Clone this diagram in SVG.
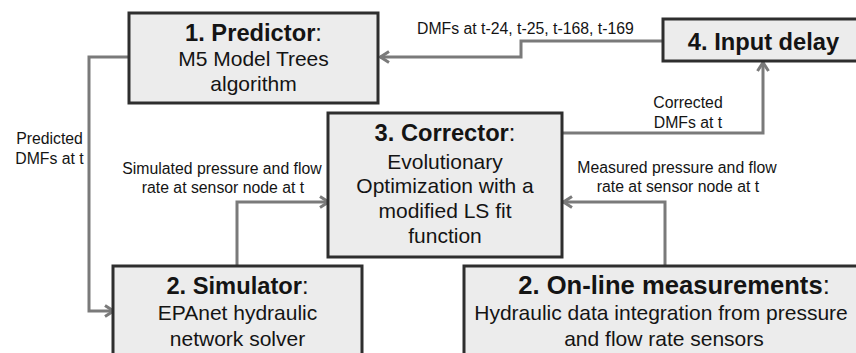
<svg xmlns="http://www.w3.org/2000/svg" width="856" height="353" viewBox="0 0 856 353">
<style>
.box{fill:#ececec;stroke:#2e2e2e;stroke-width:3}
.conn{fill:none;stroke:#7a7a7a;stroke-width:3}
text{font-family:"Liberation Sans",Arial,sans-serif;fill:#141414}
.t{font-size:23.7px;font-weight:bold;text-anchor:middle}
.b{font-size:21px;text-anchor:middle}
.l{font-size:15.8px}
.c{text-anchor:middle}
.n{font-weight:normal}
</style>
<defs>
<marker id="arr" markerUnits="userSpaceOnUse" markerWidth="16" markerHeight="16" viewBox="0 0 16 16" refX="14" refY="8" orient="auto">
<path d="M5,2.5 L13.5,8 L5,13.5" fill="none" stroke="#7a7a7a" stroke-width="3"/>
</marker>
</defs>
<rect width="856" height="353" fill="#ffffff"/>
<g id="connectors">
<path class="conn" d="M663,41 H521 V57 H380" marker-end="url(#arr)"/>
<path class="conn" d="M129,57 H89 V311 H114" marker-end="url(#arr)"/>
<path class="conn" d="M237,266 V202 H329" marker-end="url(#arr)"/>
<path class="conn" d="M665,266 V202 H563" marker-end="url(#arr)"/>
<path class="conn" d="M562,133 H763 V62" marker-end="url(#arr)"/>
<text class="l" x="417" y="34">DMFs at t-24, t-25, t-168, t-169</text>
<text class="l c" x="49.5" y="144">Predicted</text>
<text class="l c" x="49.5" y="164">DMFs at t</text>
<text class="l c" x="222" y="174">Simulated pressure and flow</text>
<text class="l c" x="223" y="193">rate at sensor node at t</text>
<text class="l c" x="677" y="173">Measured pressure and flow</text>
<text class="l c" x="678" y="192">rate at sensor node at t</text>
<text class="l c" x="688" y="108">Corrected</text>
<text class="l c" x="688" y="128">DMFs at t</text>
</g>
<g id="predictor">
<rect class="box" x="129" y="13" width="249" height="90"/>
<text class="t" x="253.5" y="41">1. Predictor<tspan class="n">:</tspan></text>
<text class="b" x="253.5" y="66">M5 Model Trees</text>
<text class="b" x="253.5" y="91">algorithm</text>
</g>
<g id="input-delay">
<rect class="box" x="663" y="19" width="205" height="42"/>
<text class="t" x="763.5" y="50">4. Input delay</text>
</g>
<g id="corrector">
<rect class="box" x="328" y="113" width="234" height="144"/>
<text class="t" x="445" y="141">3. Corrector<tspan class="n">:</tspan></text>
<text class="b" x="445" y="168.5">Evolutionary</text>
<text class="b" x="445" y="193">Optimization with a</text>
<text class="b" x="445" y="218">modified LS fit</text>
<text class="b" x="445" y="243">function</text>
</g>
<g id="simulator">
<rect class="box" x="113" y="266" width="249" height="100"/>
<text class="t" x="237.5" y="294">2. Simulator<tspan class="n">:</tspan></text>
<text class="b" x="237.5" y="320">EPAnet hydraulic</text>
<text class="b" x="237.5" y="346">network solver</text>
</g>
<g id="online-measurements">
<rect class="box" x="464" y="266" width="410" height="100"/>
<text class="t" x="674" y="294" style="font-size:25.6px">2. On-line measurements<tspan class="n">:</tspan></text>
<text class="b" x="661" y="320">Hydraulic data integration from pressure</text>
<text class="b" x="664" y="346">and flow rate sensors</text>
</g>
</svg>
